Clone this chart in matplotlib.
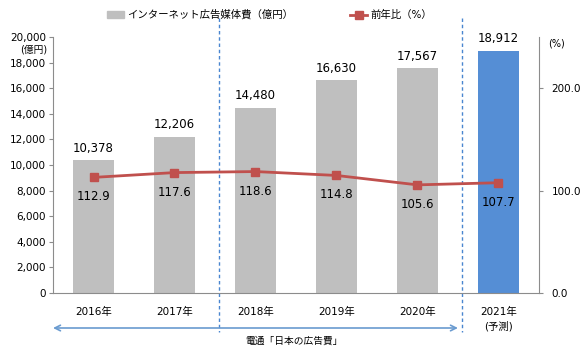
import numpy as np
import matplotlib.pyplot as plt
import matplotlib.transforms as mtransforms
from matplotlib.patches import Patch
from matplotlib.lines import Line2D

plt.rcParams['font.family'] = ['DejaVu Sans', 'Noto Sans CJK JP']

# data
years = ['2016年', '2017年', '2018年', '2019年', '2020年', '2021年\n(予測)']
spend = [10378, 12206, 14480, 16630, 17567, 18912]      # 億円
yoy = [112.9, 117.6, 118.6, 114.8, 105.6, 107.7]        # 前年比 %
bar_colors = ['#BFBFBF'] * 5 + ['#558ED5']

spine_c = '#8C8C8C'
red = '#C0504D'

fig = plt.figure(figsize=(5.8, 3.6), dpi=100)
ax = fig.add_axes([0.0914, 0.1861, 0.8378, 0.7111])
ax2 = ax.twinx()

x = np.arange(len(years))
bars = ax.bar(x, spend, width=0.5, color=bar_colors, zorder=2)
for xi, v in zip(x, spend):
    ax.annotate(f'{v:,}', (xi, v), xytext=(0, 4), textcoords='offset points',
                ha='center', va='bottom', fontsize=8.5)

ax.set_xlim(-0.5, 5.5)
ax.set_ylim(0, 20000)
ax.set_yticks(np.arange(0, 20001, 2000))
ax.set_yticklabels([f'{t:,}' for t in range(0, 20001, 2000)], fontsize=7.5)
ax.set_xticks(x)
ax.set_xticklabels(years, fontsize=7.5, linespacing=1.5)
ax.tick_params(axis='x', length=0, pad=10)
ax.tick_params(axis='y', length=3, color=spine_c, pad=2)

ax2.plot(x, yoy, color=red, lw=2, marker='s', markersize=5.5, zorder=3)
for xi, v in zip(x, yoy):
    ax2.annotate(f'{v:.1f}', (xi, v), xytext=(0, -14), textcoords='offset points',
                 ha='center', va='center', fontsize=8.5)
ax2.set_ylim(0, 250)
ax2.set_yticks([0, 100, 200])
ax2.set_yticklabels(['0.0', '100.0', '200.0'], fontsize=7.5)
ax2.tick_params(axis='y', length=3, color=spine_c, pad=6)

for a in (ax, ax2):
    a.spines['top'].set_visible(False)
    for s in ('left', 'right', 'bottom'):
        a.spines[s].set_color(spine_c)
ax.spines['right'].set_visible(False)
ax2.spines['left'].set_visible(False)
ax2.spines['bottom'].set_visible(False)

# unit labels
fig.text(47 / 580, 1 - 50 / 360, '(億円)', ha='right', va='center', fontsize=7)
fig.text(548 / 580, 1 - 43 / 360, '(%)', ha='left', va='center', fontsize=7)

# dashed separators and the source arrow
tr = mtransforms.blended_transform_factory(ax.transData, fig.transFigure)
for xv in (1.55, 4.55):
    ax.add_line(Line2D([xv, xv], [1 - 18 / 360, 1 - 332 / 360], transform=tr,
                       color='#4A86D0', lw=1, ls=(0, (2.5, 2)), clip_on=False))
ya = 1 - 328 / 360
ax.annotate('', xy=(4.5, ya), xytext=(-0.5, ya), xycoords=tr, textcoords=tr,
            arrowprops=dict(arrowstyle='<->', color='#6A9BD0', lw=1.2,
                            shrinkA=0, shrinkB=0))
fig.text(294 / 580, 1 - 341 / 360, '電通「日本の広告費」', ha='center', va='center',
         fontsize=7)

# legend
handles = [Patch(color='#BFBFBF'),
           Line2D([], [], color=red, lw=2, marker='s', markersize=5.5)]
fig.legend(handles, ['インターネット広告媒体費（億円）', '前年比（%）'],
           loc='center', bbox_to_anchor=(0.465, 1 - 15 / 360), ncol=2,
           frameon=False, fontsize=7.5, handlelength=1.6, handletextpad=0.3,
           columnspacing=5.5)

fig.savefig('out.png', dpi=100)
